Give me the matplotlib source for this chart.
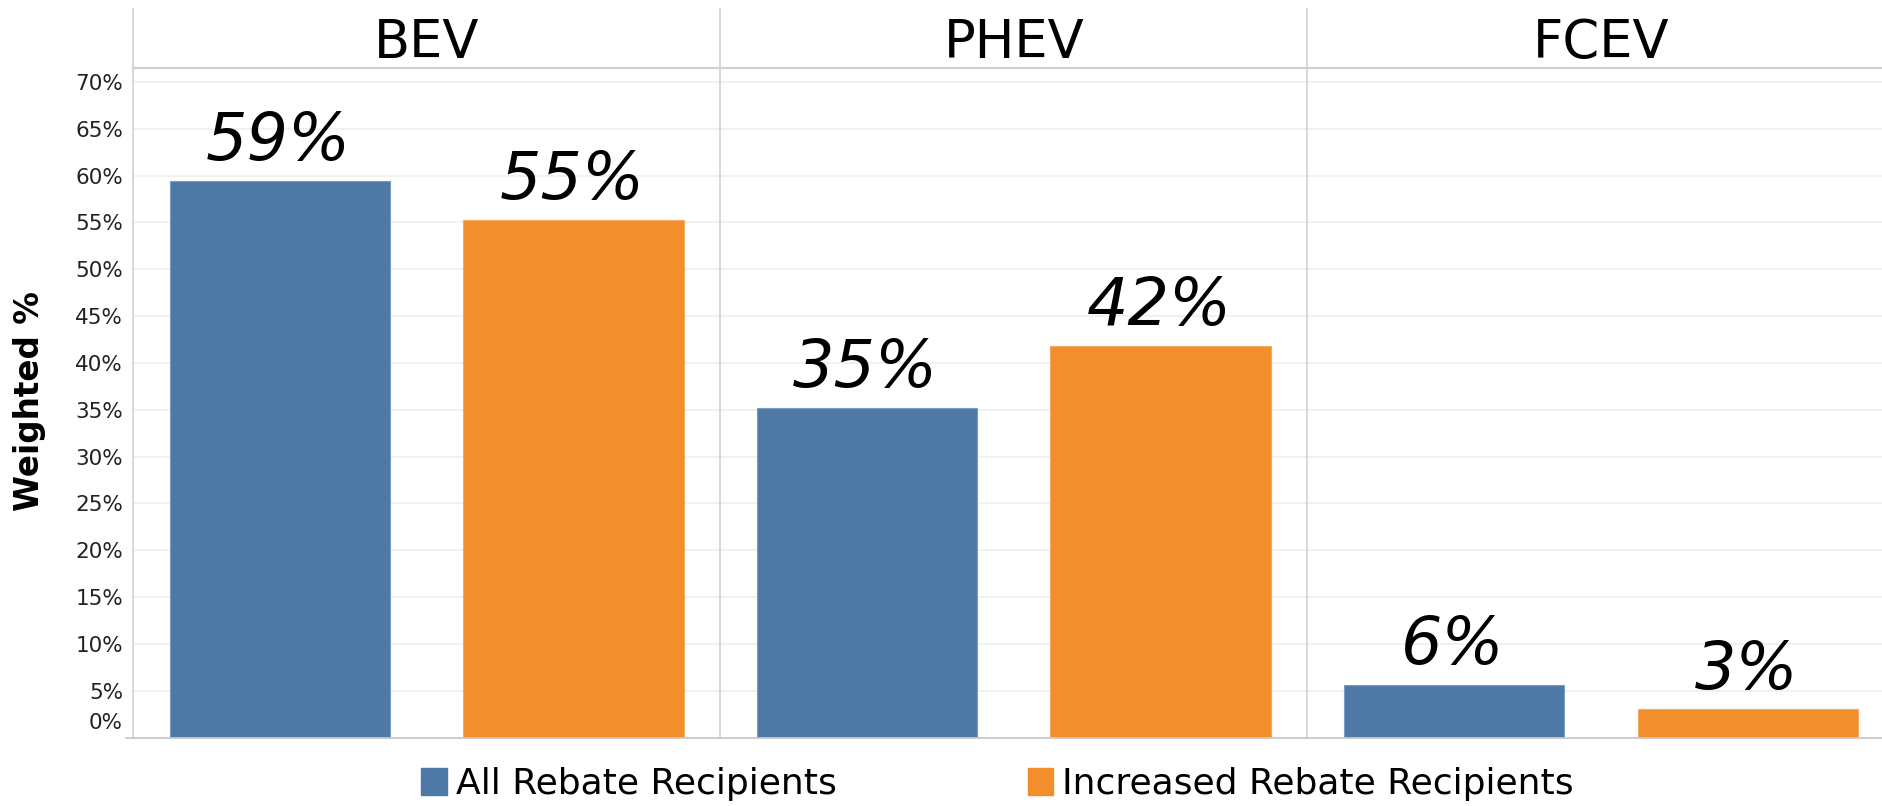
import matplotlib
matplotlib.use("Agg")
import matplotlib.pyplot as plt
from matplotlib.lines import Line2D
from matplotlib.patches import Patch

# ---- data ----
categories = ["BEV", "PHEV", "FCEV"]
series_names = ["All Rebate Recipients", "Increased Rebate Recipients"]
all_rebate = [59.4, 35.2, 5.6]
increased_rebate = [55.3, 41.8, 3.0]
ytick_values = [5, 10, 15, 20, 25, 30, 35, 40, 45, 50, 55, 60, 65, 70]
ytick_labels = [f"{v}%" for v in ytick_values]
y_label = "Weighted %"

BLUE = "#4e79a7"
ORANGE = "#f28e2b"
LINE = "#d4d4d4"
GRID = "#efefef"

W, H = 1883, 806
fig = plt.figure(figsize=(W / 100, H / 100), dpi=100)
fig.patch.set_facecolor("white")


def fx(px):
    return px / W


def fy(py):
    return 1 - py / H


left0 = 133.0
panel_w = 587.2
top_px = 68.0
bot_px = 737.5
header_top = 9.0

for i, cat in enumerate(categories):
    x0 = left0 + i * panel_w
    ax = fig.add_axes([fx(x0), fy(bot_px), panel_w / W, (bot_px - top_px) / H])
    vals = [all_rebate[i], increased_rebate[i]]
    ax.bar([0, 1], vals, width=0.75, color=[BLUE, ORANGE],
           edgecolor=["#7a9cc0", "#f5aa63"], linewidth=0.8, zorder=2)
    ax.set_xlim(-0.5, 1.5)
    ax.set_ylim(0, 71.5)
    ax.set_yticks(ytick_values)
    ax.yaxis.grid(True, color=GRID, linewidth=1.2, zorder=0)
    ax.set_axisbelow(True)
    ax.set_xticks([])
    ax.spines["right"].set_visible(False)
    ax.spines["left"].set_color(LINE)
    ax.spines["left"].set_linewidth(1.3)
    ax.spines["top"].set_color("#d0d0d0")
    ax.spines["top"].set_linewidth(1.6)
    ax.spines["bottom"].set_color("#c8c8c8")
    ax.spines["bottom"].set_linewidth(1.3)
    ax.tick_params(axis="y", length=0, pad=7.2, labelsize=15.5, labelcolor="#222222")
    if i == 0:
        ax.set_yticklabels(ytick_labels)
        ax.annotate("0%", xy=(0, 0), xycoords=("axes fraction", "data"),
                    xytext=(-7.2, 10.4), textcoords="offset points",
                    ha="right", va="center", fontsize=15.5, color="#222222",
                    annotation_clip=False)
    else:
        ax.tick_params(axis="y", labelleft=False)
    for xpos, v in zip([0, 1], vals):
        ax.annotate(f"{round(v)}%", xy=(xpos, v), xytext=(-1, 15),
                    textcoords="offset points", ha="center", va="baseline",
                    fontsize=47, style="italic", color="black")
    # header divider line
    fig.add_artist(Line2D([fx(x0), fx(x0)], [fy(header_top), fy(top_px)],
                          color=LINE, linewidth=1.3))
    fig.text(fx(x0 + panel_w / 2), fy(43), cat, ha="center", va="center",
             fontsize=38, color="black")

# small baseline stub to the left of the axis
fig.add_artist(Line2D([fx(126), fx(133)], [fy(bot_px), fy(bot_px)],
                      color="#c8c8c8", linewidth=1.3))

fig.text(fx(30), fy(401), y_label, rotation=90, ha="center", va="center",
         fontsize=23.5, fontweight="bold", color="black")

handles = [Patch(facecolor=BLUE, edgecolor=BLUE), Patch(facecolor=ORANGE, edgecolor=ORANGE)]
fig.legend(handles, series_names, loc="center", bbox_to_anchor=(fx(997.5), fy(784)),
           ncol=2, frameon=False, fontsize=26, handlelength=0.7, handleheight=0.76,
           handletextpad=0.25, columnspacing=5.3, borderpad=0, borderaxespad=0)

fig.savefig("out.png", dpi=100, facecolor="white")
